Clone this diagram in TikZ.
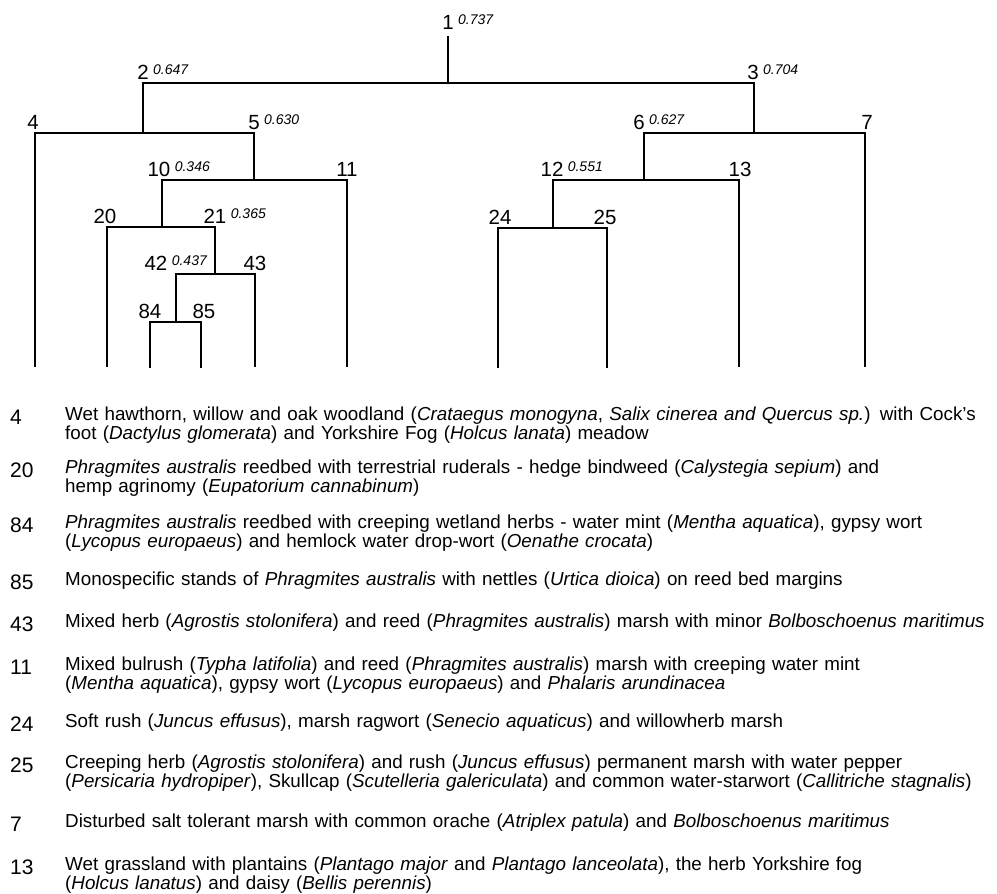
\documentclass[tikz,border=0pt]{standalone}
\usepackage{fontspec}
\setmainfont{Liberation Sans}
\usetikzlibrary{positioning}

\begin{document}
\begin{tikzpicture}[x=1pt, y=-1pt,
  branch/.style={line width=2pt, line join=miter},
  numlab/.style={anchor=base, inner sep=0pt, font=\fontsize{20.5}{24}\selectfont},
  valab/.style={anchor=north west, inner sep=0pt, font=\fontsize{14}{16}\selectfont\itshape},
  keynum/.style={anchor=base west, inner sep=0pt, font=\fontsize{21}{24}\selectfont},
  keytext/.style={anchor=base west, inner sep=0pt, text width=960pt, align=left,
    font=\fontsize{18.8}{19.5}\selectfont}]
  \useasboundingbox (0,0) rectangle (997,894);
  % cluster tops (t) and bottoms (b)
  \foreach \n/\x/\ya/\yb in {1/448/36/83, 2/143/83/133, 3/754/83/133, 4/35/133/367,
      5/254/133/180, 6/644/133/180, 7/865/133/367, 10/162/180/227, 11/347/180/367,
      12/553/180/228, 13/739/180/367, 20/107/227/367, 21/215/227/274, 24/498/228/368,
      25/607/228/368, 42/176/274/322, 43/255/274/367, 84/150/322/368, 85/201/322/368}
    {\coordinate (t\n) at (\x,\ya); \coordinate (b\n) at (\x,\yb);}
  \draw[branch] (t1) -- (b1);
  \foreach \a/\b in {2/3, 4/5, 6/7, 10/11, 12/13, 20/21, 24/25, 42/43, 84/85}
    \draw[branch] (b\a) -- (t\a) -- (t\b) -- (b\b);
  % cluster numbers and values
  \foreach \n/\x/\y in {1/448/29, 2/143/79, 3/753/79, 4/33/129, 5/254/129, 6/639/129,
      7/867/129, 10/159/176, 11/347/176, 12/552/176, 13/740/176, 20/105/223, 21/215/223,
      24/500/224, 25/605/224, 42/156/270, 43/255/270, 84/150/318, 85/204/318}
    \node[numlab] (n\n) at (\x,\y) {\n};
  \foreach \n/\v in {1/0.737, 2/0.647, 3/0.704, 5/0.630, 6/0.627, 10/0.346, 12/0.551,
      21/0.365, 42/0.437}
    \node[right=4pt of n\n.north east, valab] (v\n) {\v};
  % key to the end groups
  \node[keynum] (k4) at (10,424) {4};
  \node[keytext] (d4) at (65,420) {Wet hawthorn, willow and oak woodland (\textit{Crataegus monogyna}, \textit{Salix cinerea and Quercus sp.}) with Cock's\\foot (\textit{Dactylus glomerata}) and Yorkshire Fog (\textit{Holcus lanata}) meadow};
  \node[keynum] (k20) at (10,477) {20};
  \node[keytext] (d20) at (65,473) {\textit{Phragmites australis} reedbed with terrestrial ruderals - hedge bindweed (\textit{Calystegia sepium}) and\\hemp agrinomy (\textit{Eupatorium cannabinum})};
  \node[keynum] (k84) at (10,532) {84};
  \node[keytext] (d84) at (65,528) {\textit{Phragmites australis} reedbed with creeping wetland herbs - water mint (\textit{Mentha aquatica}), gypsy wort\\(\textit{Lycopus europaeus}) and hemlock water drop-wort (\textit{Oenathe crocata})};
  \node[keynum] (k85) at (10,589) {85};
  \node[keytext] (d85) at (65,585) {Monospecific stands of \textit{Phragmites australis} with nettles (\textit{Urtica dioica}) on reed bed margins};
  \node[keynum] (k43) at (10,631) {43};
  \node[keytext] (d43) at (65,627) {Mixed herb (\textit{Agrostis stolonifera}) and reed (\textit{Phragmites australis}) marsh with minor \textit{Bolboschoenus maritimus}};
  \node[keynum] (k11) at (10,674) {11};
  \node[keytext] (d11) at (65,670) {Mixed bulrush (\textit{Typha latifolia}) and reed (\textit{Phragmites australis}) marsh with creeping water mint\\(\textit{Mentha aquatica}), gypsy wort (\textit{Lycopus europaeus}) and \textit{Phalaris arundinacea}};
  \node[keynum] (k24) at (10,731) {24};
  \node[keytext] (d24) at (65,727) {Soft rush (\textit{Juncus effusus}), marsh ragwort (\textit{Senecio aquaticus}) and willowherb marsh};
  \node[keynum] (k25) at (10,772) {25};
  \node[keytext] (d25) at (65,768) {Creeping herb (\textit{Agrostis stolonifera}) and rush (\textit{Juncus effusus}) permanent marsh with water pepper\\(\textit{Persicaria hydropiper}), Skullcap (\textit{Scutelleria galericulata}) and common water-starwort (\textit{Callitriche stagnalis})};
  \node[keynum] (k7) at (10,831) {7};
  \node[keytext] (d7) at (65,827) {Disturbed salt tolerant marsh with common orache (\textit{Atriplex patula}) and \textit{Bolboschoenus maritimus}};
  \node[keynum] (k13) at (10,874) {13};
  \node[keytext] (d13) at (65,870) {Wet grassland with plantains (\textit{Plantago major} and \textit{Plantago lanceolata}), the herb Yorkshire fog\\(\textit{Holcus lanatus}) and daisy (\textit{Bellis perennis})};
\end{tikzpicture}
\end{document}
